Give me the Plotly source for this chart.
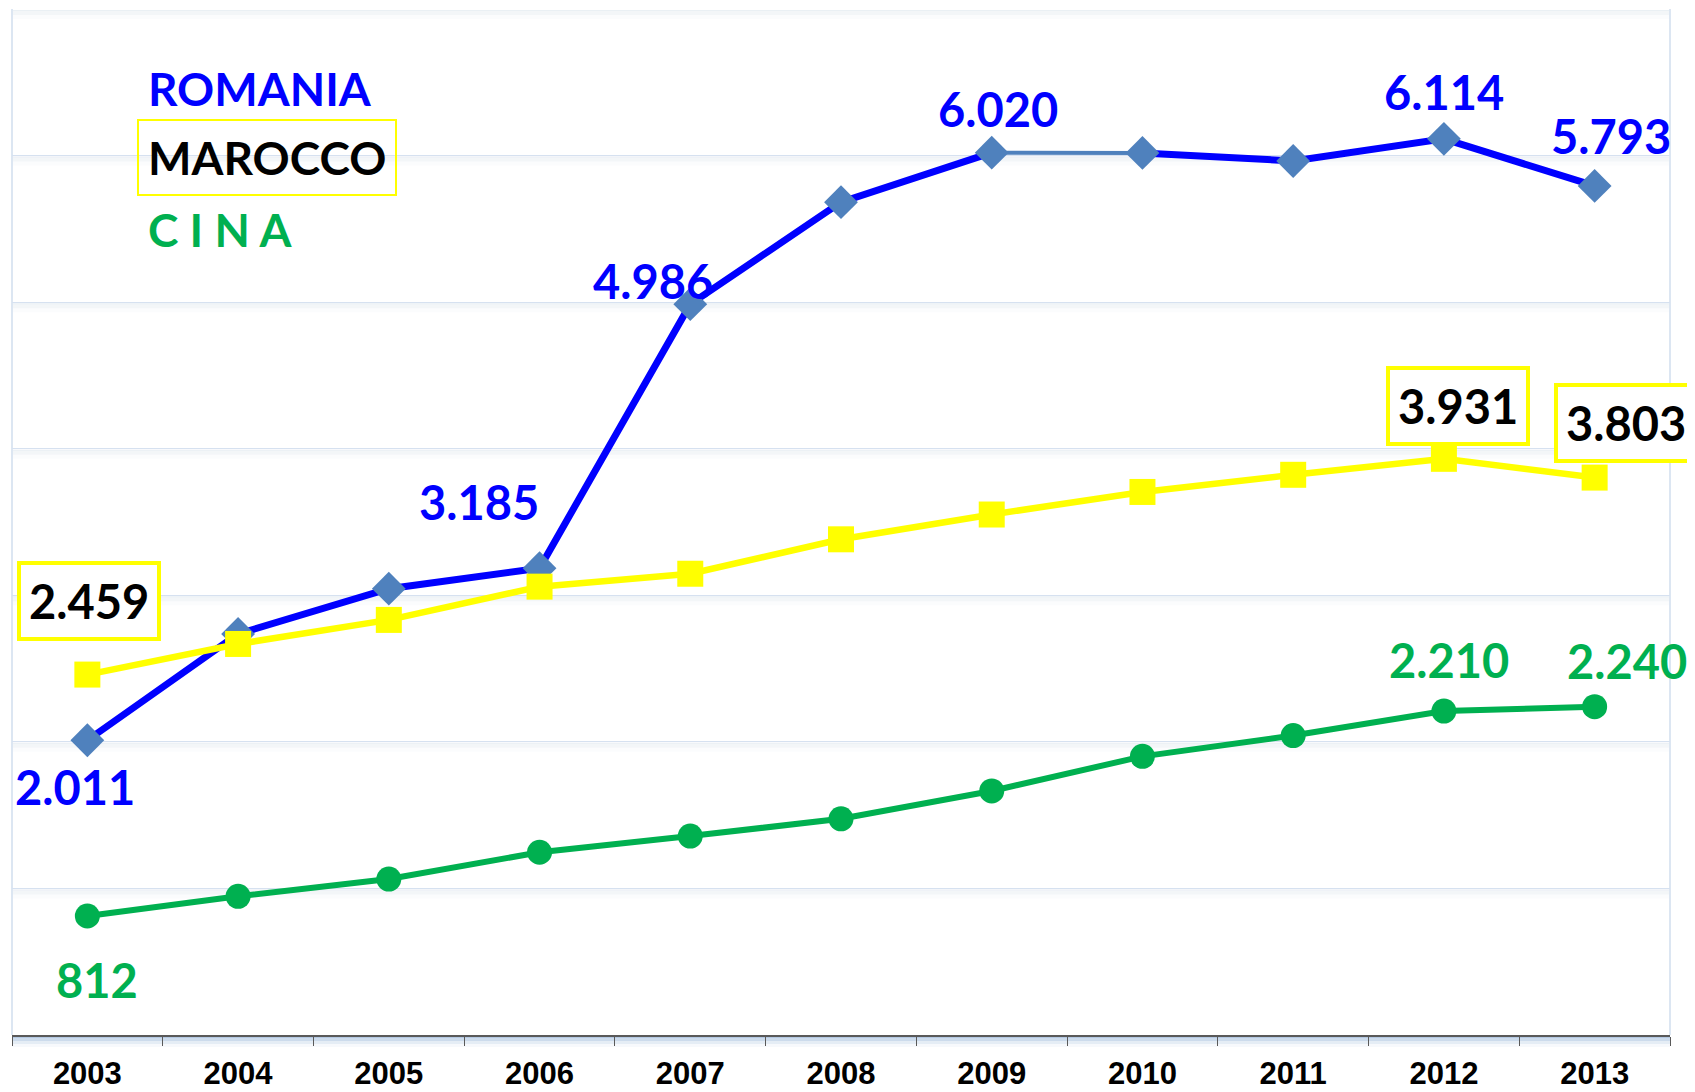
import plotly.graph_objects as go

anni = ['2003', '2004', '2005', '2006', '2007', '2008', '2009', '2010', '2011', '2012', '2013']
romania = [2011, 2736, 3045, 3185, 4986, 5682, 6020, 6018, 5963, 6114, 5793]
marocco = [2459, 2668, 2832, 3059, 3147, 3382, 3551, 3705, 3822, 3931, 3803]
cina = [812, 946, 1064, 1247, 1357, 1475, 1665, 1901, 2043, 2210, 2240]

BLU = '#0000ff'
BLU_MARKER = '#4f81bd'
GIALLO = '#ffff00'
VERDE = '#00b050'
FONT_VAL = 'Lato'
SIZE_VAL = 47


def fmt(v):
    # separatore delle migliaia all'italiana
    return f"{v:,}".replace(",", ".")


fig = go.Figure()

# Romania: linea spessa, con il tratto 2009-2010 sottile
fig.add_trace(go.Scatter(x=anni[:7], y=romania[:7], mode='lines',
                         line=dict(color=BLU, width=7), hoverinfo='skip'))
fig.add_trace(go.Scatter(x=anni[7:], y=romania[7:], mode='lines',
                         line=dict(color=BLU, width=7), hoverinfo='skip'))
fig.add_trace(go.Scatter(x=anni[6:8], y=romania[6:8], mode='lines',
                         line=dict(color=BLU_MARKER, width=4), hoverinfo='skip'))
fig.add_trace(go.Scatter(x=anni, y=romania, mode='markers', name='ROMANIA',
                         marker=dict(symbol='diamond', size=26, color=BLU_MARKER)))

fig.add_trace(go.Scatter(x=anni, y=cina, mode='lines+markers', name='CINA',
                         line=dict(color=VERDE, width=6),
                         marker=dict(symbol='circle', size=25, color=VERDE)))

fig.add_trace(go.Scatter(x=anni, y=marocco, mode='lines+markers', name='MAROCCO',
                         line=dict(color=GIALLO, width=6.5),
                         marker=dict(symbol='square', size=26, color=GIALLO)))

# etichette dei valori: (indice, xshift, yshift)
etich_romania = [(0, -12, -47), (3, -61, 66), (4, -37, 23), (6, 6, 44), (9, 0, 47), (10, 16, 50)]
etich_marocco = [(0, 2, 74), (9, 14, 53), (10, 31, 55)]
etich_cina = [(0, 10, -64), (9, 5, 51), (10, 32, 46)]

for i, dx, dy in etich_romania:
    fig.add_annotation(x=i, y=romania[i], text=fmt(romania[i]), showarrow=False,
                       xshift=dx, yshift=dy,
                       font=dict(family=FONT_VAL, size=SIZE_VAL, color=BLU, weight='bold'))
for i, dx, dy in etich_marocco:
    fig.add_annotation(x=i, y=marocco[i], text=fmt(marocco[i]), showarrow=False,
                       xshift=dx, yshift=dy, bgcolor='white',
                       bordercolor=GIALLO, borderwidth=4, borderpad=8,
                       font=dict(family=FONT_VAL, size=SIZE_VAL, color='black', weight='bold'))
for i, dx, dy in etich_cina:
    fig.add_annotation(x=i, y=cina[i], text=fmt(cina[i]), showarrow=False,
                       xshift=dx, yshift=dy,
                       font=dict(family=FONT_VAL, size=SIZE_VAL, color=VERDE, weight='bold'))

# legenda scritta a mano in alto a sinistra
fig.add_annotation(xref='paper', yref='paper', x=0, y=1, xshift=134, yshift=-79,
                   xanchor='left', yanchor='middle', showarrow=False, text='ROMANIA',
                   font=dict(family=FONT_VAL, size=46, color=BLU, weight='bold'))
fig.add_annotation(xref='paper', yref='paper', x=0, y=1, xshift=125, yshift=-148,
                   xanchor='left', yanchor='middle', showarrow=False, text='MAROCCO',
                   bordercolor=GIALLO, borderwidth=2, borderpad=9,
                   font=dict(family=FONT_VAL, size=46, color='black', weight='bold'))
fig.add_annotation(xref='paper', yref='paper', x=0, y=1, xshift=134, yshift=-220,
                   xanchor='left', yanchor='middle', showarrow=False, text='C I N A',
                   font=dict(family=FONT_VAL, size=46, color=VERDE, weight='bold'))

# ombre sotto le griglie, ai bordi e sotto l'asse
shapes = []
for k in range(1, 8):
    for off, alpha in [(2, 0.45), (6, 0.3), (10, 0.15)]:
        shapes.append(dict(type='rect', xref='paper', yref='y', x0=0, x1=1,
                           ysizemode='pixel', yanchor=k * 1000, y0=-1, y1=-off,
                           fillcolor=f'rgba(225,232,240,{alpha})', line=dict(width=0),
                           layer='below'))
for xp in [0, 1]:
    shapes.append(dict(type='line', xref='paper', yref='paper', x0=xp, x1=xp, y0=0, y1=1,
                       line=dict(color='#dce6f2', width=2), layer='below'))
for off, alpha in [(3, 0.9), (6, 0.6), (9, 0.35), (12, 0.15)]:
    shapes.append(dict(type='rect', xref='paper', yref='paper', x0=0, x1=1,
                       ysizemode='pixel', yanchor=0, y0=0, y1=-off,
                       fillcolor=f'rgba(150,180,215,{alpha * 0.5})', line=dict(width=0),
                       layer='below'))

# la pagina html ha 8px di margine: figura ridotta di conseguenza
fig.update_layout(
    width=1687, height=1084,
    margin=dict(l=4, r=25, t=1, b=44),
    paper_bgcolor='white', plot_bgcolor='white',
    showlegend=False,
    shapes=shapes,
    xaxis=dict(type='category', range=[-0.5, 10.5], showgrid=False,
               showline=True, linecolor='#595959', linewidth=1.5,
               ticks='outside', tickson='boundaries', ticklen=9, tickcolor='#595959',
               ticklabelstandoff=10,
               tickfont=dict(family='Liberation Sans', size=31, color='black', weight='bold')),
    yaxis=dict(range=[0, 7000], dtick=1000, showticklabels=False, zeroline=False,
               showgrid=True, gridcolor='#d6e1f0', gridwidth=1.2, showline=False),
)

fig.write_html("out.html")
